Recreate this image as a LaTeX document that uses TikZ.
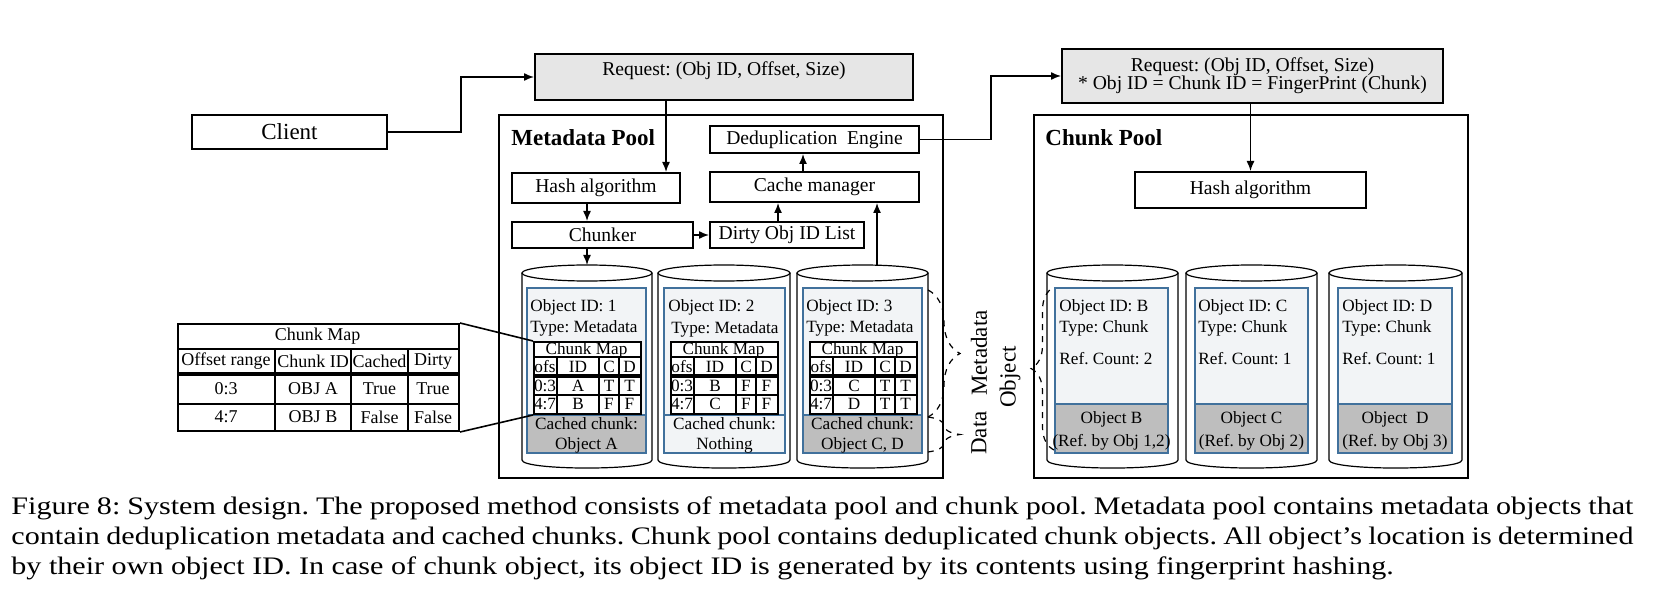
\documentclass[tikz,border=0pt]{standalone}
\usepackage{fontspec}
\setmainfont{Liberation Serif}
\newfontfamily\capfont[FakeStretch=1.195]{Liberation Serif}
\usetikzlibrary{arrows.meta,positioning,decorations.pathreplacing}

\definecolor{reqgray}{RGB}{230,230,230}
\definecolor{objfill}{RGB}{242,244,246}
\definecolor{cachegray}{RGB}{190,190,190}
\definecolor{objblue}{RGB}{65,113,156}

\tikzset
{
    plainbox/.style = {rectangle, draw=black, line width=1pt, fill=white,
                          inner sep=0pt, font=\fontsize{9.8}{9}\selectfont},
    reqbox/.style = {plainbox, fill=reqgray},
    boxtxt/.style = {inner sep=0pt, align=center, font=\fontsize{9.8}{9}\selectfont},
    poolbox/.style = {rectangle, draw=black, line width=1.3pt, inner sep=0pt},
    pooltitle/.style = {anchor=west, inner sep=0pt,
                          font=\fontsize{11.5}{13}\selectfont\bfseries},
    flow/.style = {draw, line width=0.7pt, -{Latex[length=5pt, width=4pt]}},
    cylline/.style = {draw=black, line width=0.6pt, fill=white},
    objline/.style = {draw=objblue, line width=1pt},
    objtxt/.style = {inner sep=0pt, font=\fontsize{8.6}{10}\selectfont},
    mapframe/.style = {rectangle, draw=black, line width=1pt, inner sep=0pt},
    cell/.style = {inner sep=0pt, font=\fontsize{9}{10}\selectfont},
    sidelabel/.style = {inner sep=0pt, rotate=90, font=\fontsize{11.5}{13}\selectfont},
    dashbrace/.style = {dashed, line width=0.6pt, decorate,
                          decoration={brace, amplitude=#1}}
}

% cylinder between x #1 and #2, coordinate #3-top
\newcommand{\dbcyl}[3]{%
    \draw[cylline] (#1,273) -- (#1,460) .. controls (#1,470.7) and (#2,470.7) .. (#2,460) -- (#2,273);
    \draw[cylline] ({(#1+#2)/2},273) ellipse [x radius={(#2-#1)/4*1pt}, y radius=4pt];
    \coordinate (#3-top) at ({(#1+#2)/2},265);
}
% object inside a cylinder: left, right, top of lower part, fill of lower part
\newcommand{\objbox}[4]{%
    \draw[objline, fill=objfill] (#1,288) rectangle (#2,453);
    \draw[objline, fill=#4] (#1,#3) rectangle (#2,453);
}
% chunk map inside a metadata object
\newcommand{\smallmap}[8]{%
    \node[mapframe, fill=white, anchor=north west, minimum width=53.5pt, minimum height=36pt] (#2) at (#1,341) {};
    \draw[line width=0.8pt] (#1,357) -- ++(107,0) (#1,395) -- ++(107,0);
    \draw[line width=1.8pt] (#1,376) -- ++(107,0);
    \foreach \cx in {24,66,86}
        \draw[line width=0.8pt] ({#1+\cx},357) -- ({#1+\cx},413);
    \node[objtxt] (#2-t) at ({#1+53.5},350) {Chunk Map};
    \node[objtxt] (#2-h1) at ({#1+12},366.5) {ofs};
    \node[objtxt] (#2-h2) at ({#1+45},366.5) {ID};
    \node[objtxt] (#2-h3) at ({#1+76},366.5) {C};
    \node[objtxt] (#2-h4) at ({#1+96.5},366.5) {D};
    \node[objtxt] (#2-a1) at ({#1+12},385.5) {0:3};
    \node[objtxt] (#2-a2) at ({#1+45},385.5) {#3};
    \node[objtxt] (#2-a3) at ({#1+76},385.5) {#4};
    \node[objtxt] (#2-a4) at ({#1+96.5},385.5) {#5};
    \node[objtxt] (#2-b1) at ({#1+12},404) {4:7};
    \node[objtxt] (#2-b2) at ({#1+45},404) {#6};
    \node[objtxt] (#2-b3) at ({#1+76},404) {#7};
    \node[objtxt] (#2-b4) at ({#1+96.5},404) {#8};
}

\begin{document}
\frenchspacing
\begin{tikzpicture}[x=0.5pt, y=-0.5pt]
    \useasboundingbox (0,0) rectangle (1654,593);

    % client and request
    \node[plainbox, minimum width=97.5pt, minimum height=17pt,
          font=\fontsize{11.5}{13}\selectfont] (client) at (289.5,132) {Client};
    \node[reqbox, minimum width=189pt, minimum height=23pt] (req1) at (724,77) {};
    \node[boxtxt, below=4pt of req1.north] (req1txt) {Request: (Obj ID, Offset, Size)};
    \draw[flow] (client.east) -- ++(73,0) |- (req1.west);

    % metadata pool
    \node[poolbox, minimum width=222pt, minimum height=181.5pt] (mpool) at (721,296.5) {};
    \node[pooltitle] (mptitle) at (511,138) {Metadata Pool};
    \node[plainbox, minimum width=104.5pt, minimum height=13.5pt] (dedup) at (814.5,139.5) {Deduplication~ Engine};
    \node[plainbox, minimum width=84pt, minimum height=15pt] (hashM) at (596,188) {Hash algorithm};
    \node[plainbox, minimum width=104.5pt, minimum height=15pt] (cachem) at (814.5,187) {Cache manager};
    \node[plainbox, minimum width=90.5pt, minimum height=13pt] (chunker) at (602.5,235) {Chunker};
    \node[plainbox, minimum width=77pt, minimum height=13pt] (dirty) at (787,235) {Dirty Obj ID List};

    \coordinate (hashin) at ([xshift=-7.5pt]hashM.north east);
    \draw[flow] (hashin |- req1.south) -- (hashin);
    \draw[flow] ([xshift=-4.5pt]hashM.south) -- ([xshift=-7.75pt]chunker.north);
    \draw[flow] (chunker.east) -- (dirty.west);
    \draw[flow] ([xshift=-4.5pt]dirty.north) -- ([xshift=-18.25pt]cachem.south);
    \draw[flow] ([xshift=-5.75pt]cachem.north) -- ([xshift=-5.75pt]dedup.south);

    % metadata objects
    \dbcyl{522}{652}{cylM1}
    \dbcyl{658}{790}{cylM2}
    \dbcyl{797}{928}{cylM3}
    \draw[flow] ([xshift=-7.75pt]chunker.south) -- (cylM1-top);
    \draw[flow] ([xshift=7.25pt]cylM3-top) -- ([xshift=31.25pt]cachem.south);

    \objbox{527}{646}{415}{cachegray}
    \objbox{664}{785}{415}{objfill}
    \objbox{803}{922}{415}{cachegray}

    \node[objtxt, anchor=west] (m1id) at (530,307) {Object ID: 1};
    \node[objtxt, anchor=west] (m1type) at (530,328) {Type: Metadata};
    \node[objtxt, anchor=west] (m2id) at (668,307) {Object ID: 2};
    \node[objtxt, anchor=west] (m2type) at (671,329) {Type: Metadata};
    \node[objtxt, anchor=west] (m3id) at (806,307) {Object ID: 3};
    \node[objtxt, anchor=west] (m3type) at (806,328) {Type: Metadata};

    \smallmap{533}{map1}{A}{T}{T}{B}{F}{F}
    \smallmap{670}{map2}{B}{F}{F}{C}{F}{F}
    \smallmap{809}{map3}{C}{T}{T}{D}{T}{T}

    \node[objtxt] (m1cc) at (586.5,424) {Cached chunk:};
    \node[objtxt] (m1obj) at (586.5,445) {Object A};
    \node[objtxt] (m2cc) at (724.5,424) {Cached chunk:};
    \node[objtxt] (m2obj) at (724.5,445) {Nothing};
    \node[objtxt] (m3cc) at (862.5,424) {Cached chunk:};
    \node[objtxt] (m3obj) at (862.5,445) {Object C, D};

    % metadata / data braces
    \draw[dashbrace=16pt] (928,290) -- (928,417);
    \draw[dashbrace=16pt] (928,417) -- (928,452);
    \node[sidelabel] (lblmeta) at (979,353) {Metadata};
    \node[sidelabel] (lbldata) at (979,433) {Data};

    % chunk map table
    \node[mapframe, anchor=north west, minimum width=140.5pt, minimum height=53.5pt] (cmap) at (177,323) {};
    \draw[line width=1pt] (177,349) -- (458,349) (177,404) -- (458,404);
    \draw[line width=2pt] (177,374) -- (458,374);
    \foreach \cx in {275,351,408}
        \draw[line width=1pt] (\cx,349) -- (\cx,430);
    \node[cell] (cmaptitle) at (317.5,336) {Chunk Map};
    \node[cell] (cmh1) at (226,361.5) {Offset range};
    \node[cell] (cmh2) at (313,361.5) {Chunk ID};
    \node[cell] (cmh3) at (379.5,361.5) {Cached};
    \node[cell] (cmh4) at (433,361.5) {Dirty};
    \node[cell] (cma1) at (226,389) {0:3};
    \node[cell] (cma2) at (313,389) {OBJ A};
    \node[cell] (cma3) at (379.5,389) {True};
    \node[cell] (cma4) at (433,389) {True};
    \node[cell] (cmb1) at (226,417) {4:7};
    \node[cell] (cmb2) at (313,417) {OBJ B};
    \node[cell] (cmb3) at (379.5,417) {False};
    \node[cell] (cmb4) at (433,417) {False};
    \draw[line width=0.8pt] (cmap.north east) -- (map1.north west);
    \draw[line width=0.8pt] (cmap.south east) -- (map1.south west);

    % chunk pool
    \node[reqbox, minimum width=190.5pt, minimum height=27pt] (req2) at (1252.5,76) {};
    \node[boxtxt, below=4.5pt of req2.north] (req2txt)
        {Request: (Obj ID, Offset, Size)\\* Obj ID = Chunk ID = FingerPrint (Chunk)};
    \draw[flow] (dedup.east) -- ++(71,0) |- (req2.west);

    \node[poolbox, minimum width=217pt, minimum height=181.5pt] (cpool) at (1251,296.5) {};
    \node[pooltitle] (cptitle) at (1045,138) {Chunk Pool};
    \node[plainbox, minimum width=115.5pt, minimum height=18pt] (hashC) at (1250.5,190) {Hash algorithm};
    \draw[flow] (req2.south -| hashC.north) -- (hashC.north);

    % chunk objects
    \dbcyl{1047}{1178}{cylB}
    \dbcyl{1186}{1317}{cylC}
    \dbcyl{1329}{1462}{cylD}
    \objbox{1055}{1168}{404}{cachegray}
    \objbox{1195}{1308}{404}{cachegray}
    \objbox{1338}{1452}{404}{cachegray}

    \node[objtxt, anchor=west] (bid) at (1059,307) {Object ID: B};
    \node[objtxt, anchor=west] (btype) at (1059,328) {Type: Chunk};
    \node[objtxt, anchor=west] (bref) at (1059,359) {Ref. Count: 2};
    \node[objtxt] (bobj) at (1111.5,419) {Object B};
    \node[objtxt] (bby) at (1111.5,442) {(Ref. by Obj 1,2)};
    \node[objtxt, anchor=west] (cid) at (1198,307) {Object ID: C};
    \node[objtxt, anchor=west] (ctype) at (1198,328) {Type: Chunk};
    \node[objtxt, anchor=west] (cref) at (1198,359) {Ref. Count: 1};
    \node[objtxt] (cobj) at (1251.5,419) {Object C};
    \node[objtxt] (cby) at (1251.5,442) {(Ref. by Obj 2)};
    \node[objtxt, anchor=west] (did) at (1342,307) {Object ID: D};
    \node[objtxt, anchor=west] (dtype) at (1342,328) {Type: Chunk};
    \node[objtxt, anchor=west] (dref) at (1342,359) {Ref. Count: 1};
    \node[objtxt] (dobj) at (1395,419) {Object~ D};
    \node[objtxt] (dby) at (1395,442) {(Ref. by Obj 3)};

    \draw[dashbrace=11.5pt] (1054,450) -- (1054,287);
    \node[sidelabel] (lblobj) at (1010,377) {Object};

    % caption
    \node[anchor=north west, inner sep=0pt, text width=811pt, align=justify,
          font=\capfont\fontsize{12.6}{15}\selectfont] (caption) at (11,496)
        {Figure 8: System design. The proposed method consists of metadata pool and chunk pool. Metadata pool contains metadata objects that\linebreak contain deduplication metadata and cached chunks. Chunk pool contains deduplicated chunk objects. All object’s location is determined\linebreak by their own object ID. In case of chunk object, its object ID is generated by its contents using fingerprint hashing.};
\end{tikzpicture}
\end{document}
